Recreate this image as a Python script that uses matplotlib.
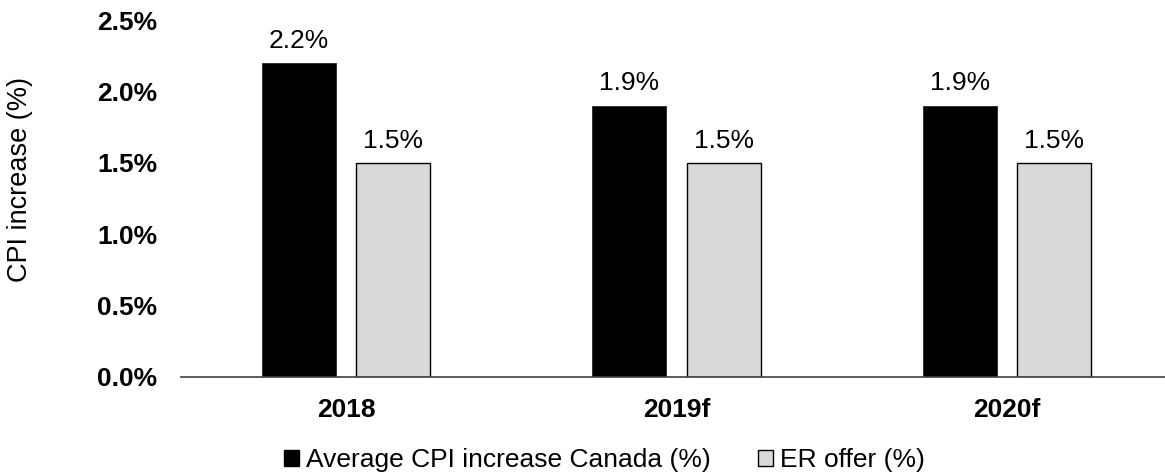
import numpy as np
import matplotlib
matplotlib.use("Agg")
import matplotlib.pyplot as plt
from matplotlib.patches import Patch

plt.rcParams['font.family'] = ['Liberation Sans', 'DejaVu Sans']

# data
years = ['2018', '2019f', '2020f']
cpi_canada = [0.022, 0.019, 0.019]
er_offer = [0.015, 0.015, 0.015]
series_names = ['Average CPI increase Canada (%)', 'ER offer (%)']
yticks = [0.0, 0.005, 0.010, 0.015, 0.020, 0.025]

FS = 19

fig = plt.figure(figsize=(11.65, 4.76), dpi=100)
ax = fig.add_axes([181 / 1165, 1 - 377 / 476, 991 / 1165, (377 - 20) / 476])

x = np.arange(len(years))
w = 0.224
off = 0.143
b1 = ax.bar(x - off, cpi_canada, w, color='black', edgecolor='#262626', linewidth=0.6)
b2 = ax.bar(x + off, er_offer, w, color='#d9d9d9', edgecolor='black', linewidth=1.0)

# value labels above bars
for bars, vals in [(b1, cpi_canada), (b2, er_offer)]:
    for rect, v in zip(bars, vals):
        ax.annotate(f"{v * 100:.1f}%", (rect.get_x() + rect.get_width() / 2, v),
                    xytext=(0, 11), textcoords='offset points',
                    ha='center', va='baseline', fontsize=FS)

ax.set_xlim(-0.5, 2.5)
ax.set_ylim(0, 0.025)
ax.set_yticks(yticks)
ax.set_yticklabels([f"{t * 100:.1f}%" for t in yticks], fontweight='bold', fontsize=FS)
ax.set_xticks(x)
ax.set_xticklabels(years, fontweight='bold', fontsize=FS)
ax.tick_params(axis='y', length=0, pad=17)
ax.tick_params(axis='x', length=0, pad=15)

for s in ['top', 'right', 'left']:
    ax.spines[s].set_visible(False)
ax.spines['bottom'].set_color('#404040')
ax.spines['bottom'].set_linewidth(1.2)

ax.set_ylabel('CPI increase (%)', fontsize=19.5)
ax.yaxis.set_label_coords(-0.149, 0.552)

handles = [Patch(facecolor='black', edgecolor='black'),
           Patch(facecolor='#d9d9d9', edgecolor='black', linewidth=1.0)]
fig.legend(handles, series_names, loc='center', bbox_to_anchor=(0.519, 1 - 460 / 476),
           ncol=2, frameon=False, fontsize=FS, handlelength=0.57, handleheight=0.57,
           handletextpad=0.27, columnspacing=1.78, borderpad=0, borderaxespad=0)

fig.savefig('out.png', dpi=100)
